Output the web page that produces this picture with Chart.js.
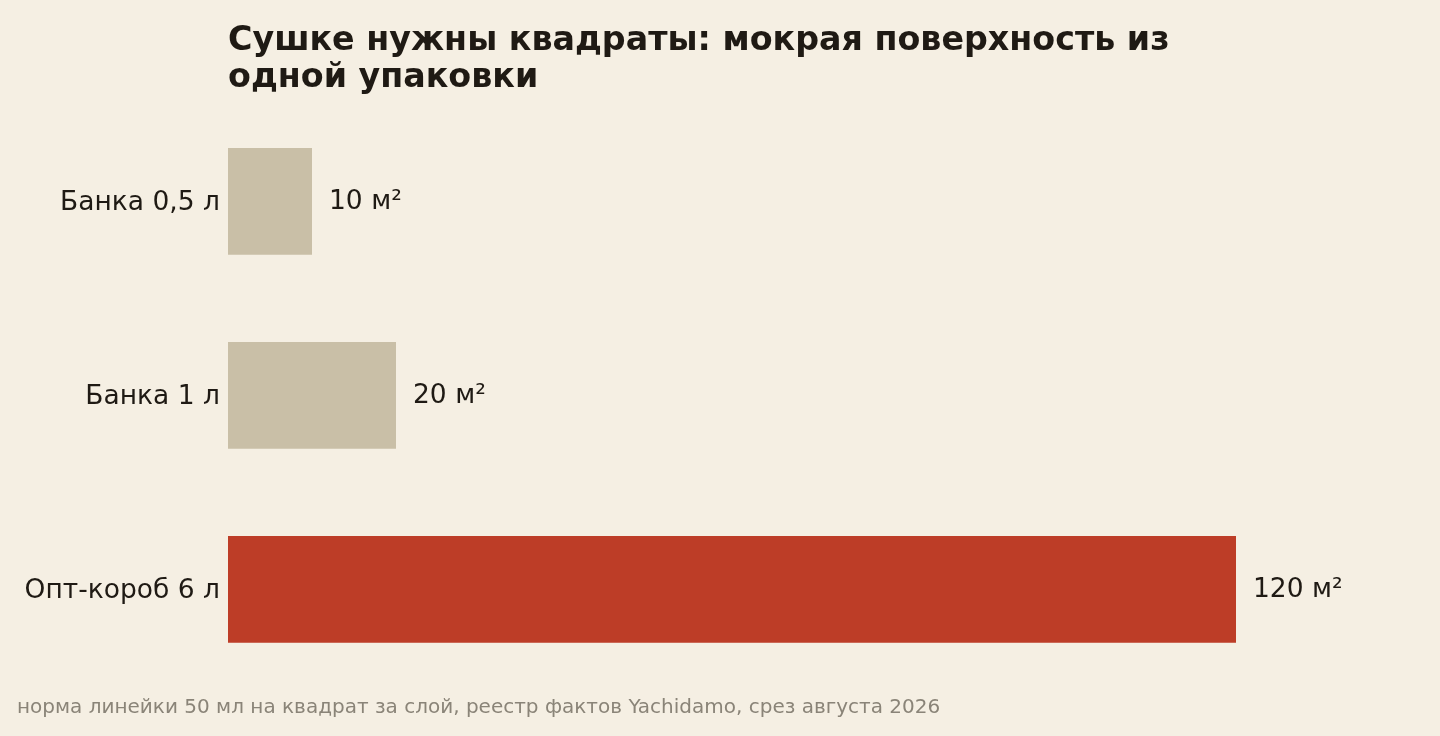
<!DOCTYPE html>
<html>
<head>
<meta charset="utf-8">
<script src="https://cdn.jsdelivr.net/npm/chart.js@4/dist/chart.umd.min.js"></script>
<style>
  html, body { margin: 0; padding: 0; background: #f5efe3; }
  #wrap { width: 1440px; height: 736px; position: relative; }
</style>
</head>
<body>
<div id="wrap"><canvas id="c"></canvas></div>
<script>
const categories = ["Банка 0,5 л", "Банка 1 л", "Опт-короб 6 л"];
const areaValues = [10, 20, 120];
const valueLabels = ["10 м²", "20 м²", "120 м²"];
const barColors = ["#c9bfa7", "#c9bfa7", "#bd3d27"];
const titleLines = ["Сушке нужны квадраты: мокрая поверхность из", "одной упаковки"];
const footerText = "норма линейки 50 мл на квадрат за слой, реестр фактов Yachidamo, срез августа 2026";

const FONT = "'DejaVu Sans', sans-serif";
const TEXT = "#1f1a14";

const valueLabelPlugin = {
  id: 'valueLabels',
  afterDatasetsDraw(chart) {
    const ctx = chart.ctx;
    const meta = chart.getDatasetMeta(0);
    ctx.save();
    ctx.font = "26.5px " + FONT;
    ctx.fillStyle = TEXT;
    ctx.textAlign = 'left';
    ctx.textBaseline = 'middle';
    meta.data.forEach((bar, i) => {
      ctx.fillText(valueLabels[i], bar.x + 17, bar.y + 1);
    });
    ctx.restore();
  }
};

const bgPlugin = {
  id: 'bg',
  beforeDraw(chart) {
    const ctx = chart.ctx;
    ctx.save();
    ctx.fillStyle = '#f5efe3';
    ctx.fillRect(0, 0, chart.width, chart.height);
    ctx.restore();
  }
};

new Chart(document.getElementById('c'), {
  type: 'bar',
  data: {
    labels: categories,
    datasets: [{
      data: areaValues,
      backgroundColor: barColors,
      borderWidth: 0,
      barPercentage: 0.55,
      categoryPercentage: 1.0
    }]
  },
  options: {
    indexAxis: 'y',
    responsive: true,
    maintainAspectRatio: false,
    animation: false,
    layout: { padding: { left: 17, right: 36, top: 23, bottom: 16.5 } },
    plugins: {
      legend: { display: false },
      tooltip: { enabled: false },
      title: {
        display: true,
        text: titleLines,
        align: 'start',
        fullSize: false,
        color: TEXT,
        font: { family: FONT, size: 33.3, weight: 'bold', lineHeight: 1.1 },
        padding: { top: 0, bottom: 8 }
      },
      subtitle: {
        display: true,
        text: footerText,
        position: 'bottom',
        align: 'start',
        color: '#8a8478',
        font: { family: FONT, size: 20, lineHeight: 1.2 },
        padding: { top: 9, bottom: 0 }
      }
    },
    scales: {
      x: {
        min: 0,
        max: 140,
        display: false,
        grid: { display: false }
      },
      y: {
        grid: { display: false, drawTicks: false },
        border: { display: false },
        afterFit(scale) { scale.width = 211; },
        ticks: {
          color: TEXT,
          padding: 8,
          labelOffset: 2,
          font: { family: FONT, size: 26.5 }
        }
      }
    }
  },
  plugins: [bgPlugin, valueLabelPlugin]
});
</script>
</body>
</html>
